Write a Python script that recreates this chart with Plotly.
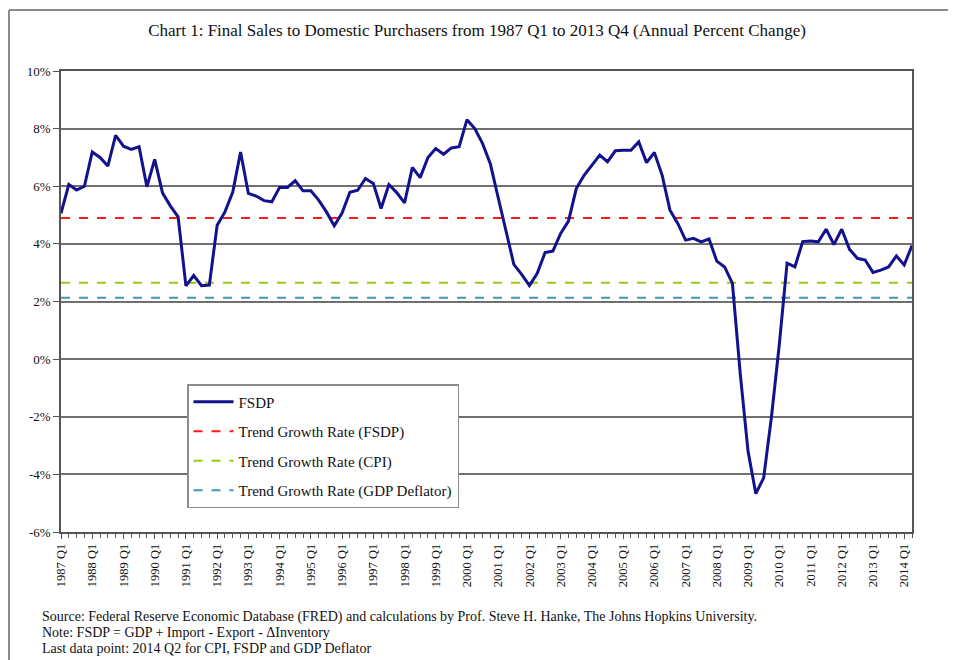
import plotly.graph_objects as go

# ---- data ----
years = list(range(1987, 2015))
quarters = [f"{y} Q{q}" for y in years for q in (1, 2, 3, 4)][:110]   # 1987 Q1 .. 2014 Q2

fsdp = [
    5.06, 6.06, 5.87, 6.00,   # 1987
    7.19, 7.00, 6.70, 7.77,   # 1988
    7.39, 7.28, 7.37, 5.98,   # 1989
    6.93, 5.77, 5.32, 4.94,   # 1990
    2.54, 2.90, 2.55, 2.57,   # 1991
    4.65, 5.11, 5.80, 7.19,   # 1992
    5.75, 5.66, 5.50, 5.46,   # 1993
    5.96, 5.96, 6.19, 5.84,   # 1994
    5.84, 5.52, 5.11, 4.63,   # 1995
    5.07, 5.79, 5.86, 6.27,   # 1996
    6.10, 5.23, 6.06, 5.78,   # 1997
    5.42, 6.65, 6.30, 7.00,   # 1998
    7.31, 7.11, 7.33, 7.37,   # 1999
    8.31, 8.00, 7.48, 6.77,   # 2000
    5.60, 4.40, 3.29, 2.94,   # 2001
    2.55, 2.98, 3.70, 3.75,   # 2002
    4.36, 4.79, 5.92, 6.38,   # 2003
    6.73, 7.08, 6.85, 7.23,   # 2004
    7.25, 7.25, 7.54, 6.82,   # 2005
    7.17, 6.38, 5.17, 4.71,   # 2006
    4.13, 4.19, 4.07, 4.17,   # 2007
    3.40, 3.20, 2.63, -0.50,  # 2008
    -3.20, -4.67, -4.12, -2.00,  # 2009
    0.50, 3.33, 3.20, 4.08,   # 2010
    4.10, 4.07, 4.51, 3.98,   # 2011
    4.51, 3.81, 3.50, 3.44,   # 2012
    3.01, 3.09, 3.20, 3.58,   # 2013
    3.27, 3.94,               # 2014 Q1-Q2
]

trend_fsdp = 4.90
trend_cpi = 2.65
trend_deflator = 2.13

y_ticks = [-6, -4, -2, 0, 2, 4, 6, 8, 10]
y_ticktext = [f"{v}%" for v in y_ticks]

x_idx = list(range(len(quarters)))
x_tickvals = [i for i, q in enumerate(quarters) if q.endswith("Q1")]
x_ticktext = [quarters[i] for i in x_tickvals]

serif = "Liberation Serif, Times New Roman, serif"

fig = go.Figure()
fig.add_trace(go.Scatter(x=x_idx, y=[trend_fsdp] * len(x_idx), mode="lines",
                         name="Trend Growth Rate (FSDP)", legendrank=2,
                         line=dict(color="#ff1a1a", width=2, dash="dash"), legendgroup="b"))
fig.add_trace(go.Scatter(x=x_idx, y=[trend_cpi] * len(x_idx), mode="lines",
                         name="Trend Growth Rate (CPI)", legendrank=3,
                         line=dict(color="#99cc11", width=2, dash="dash"), legendgroup="c"))
fig.add_trace(go.Scatter(x=x_idx, y=[trend_deflator] * len(x_idx), mode="lines",
                         name="Trend Growth Rate (GDP Deflator)", legendrank=4,
                         line=dict(color="#3a9ab8", width=2, dash="dash"), legendgroup="d"))
fig.add_trace(go.Scatter(x=x_idx, y=fsdp, mode="lines", name="FSDP", legendrank=1,
                         line=dict(color="#12128f", width=3), legendgroup="a"))

# page is rendered with an 8px body margin; work in page pixels
OFF = 8
W, H = 956 - OFF, 660 - OFF
plot_l, plot_r, plot_t, plot_b = 61, 912, 71, 532
L, R, T, B = plot_l - OFF, W - (plot_r - OFF), plot_t - OFF, H - (plot_b - OFF)
pw, ph = W - L - R, H - T - B

def px_x(p):
    return (p - OFF - L) / pw

def px_y(p):
    return (H - B - (p - OFF)) / ph

fig.update_layout(
    width=W, height=H,
    margin=dict(l=L, r=R, t=T, b=B),
    paper_bgcolor="white", plot_bgcolor="white",
    font=dict(family=serif, color="#111111", size=12),
    title=dict(text="Chart 1: Final Sales to Domestic Purchasers from 1987 Q1 to 2013 Q4 (Annual Percent Change)",
               x=(477 - OFF) / W, xref="container", xanchor="center", y=1 - (30 - OFF) / H, yanchor="middle",
               font=dict(family=serif, size=17, color="#111111")),
    showlegend=True,
    legend=dict(x=px_x(187), y=px_y(384), xanchor="left", yanchor="top",
                bgcolor="white", bordercolor="#8c8c8c", borderwidth=1.5,
                font=dict(family=serif, size=15, color="#111111"),
                traceorder="grouped", tracegroupgap=7,
                itemwidth=40, entrywidth=280),
    xaxis=dict(range=[0, len(quarters) - 1], tickmode="array",
               tickvals=x_tickvals, ticktext=x_ticktext, tickangle=-90,
               ticks="outside", ticklen=5, tickcolor="#555555", tickwidth=1,
               showgrid=False, zeroline=False,
               showline=True, linecolor="#555555", linewidth=1.5, mirror=True,
               tickfont=dict(family=serif, size=12.5, color="#111111"),
               minor=dict(dtick=1, ticks="outside", ticklen=4, tickcolor="#555555", tickwidth=1)),
    yaxis=dict(range=[-6, 10], tickmode="array", tickvals=y_ticks, ticktext=y_ticktext,
               ticks="outside", ticklen=6, tickcolor="#555555",
               showgrid=True, gridcolor="#707070", gridwidth=1.5, zeroline=False,
               showline=True, linecolor="#555555", linewidth=1.5, mirror=True,
               tickfont=dict(family=serif, size=13, color="#111111")),
)

# outer chart frame (top and left edges visible)
fig.add_shape(type="line", xref="paper", yref="paper",
              x0=px_x(9), x1=px_x(960), y0=px_y(10), y1=px_y(10),
              line=dict(color="#8c8c8c", width=2))
fig.add_shape(type="line", xref="paper", yref="paper",
              x0=px_x(9), x1=px_x(9), y0=px_y(10), y1=px_y(665),
              line=dict(color="#8c8c8c", width=2))

notes = [
    "Source: Federal Reserve Economic Database (FRED) and calculations by Prof. Steve H. Hanke, The Johns Hopkins University.",
    "Note: FSDP = GDP + Import - Export - ΔInventory",
    "Last data point: 2014 Q2 for CPI, FSDP and GDP Deflator",
]
note_y = [617, 632, 648]
for txt, yy in zip(notes, note_y):
    fig.add_annotation(text=txt, xref="paper", yref="paper", x=px_x(40), y=px_y(yy),
                       xanchor="left", yanchor="middle", align="left", showarrow=False,
                       font=dict(family=serif, size=14, color="#111111"))

fig.write_html("out.html")
